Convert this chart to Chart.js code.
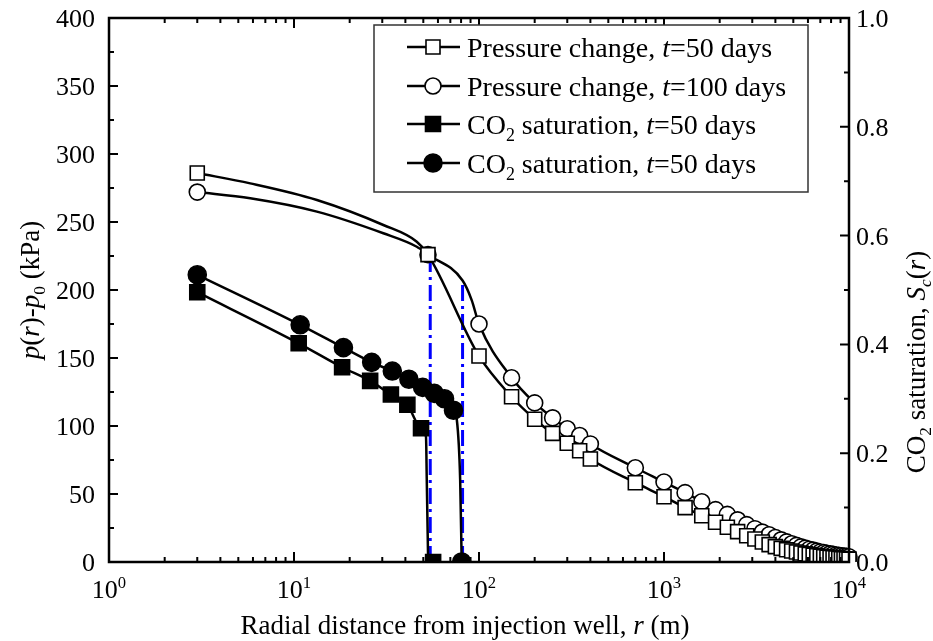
<!DOCTYPE html>
<html lang="en">
<head>
<meta charset="UTF-8">
<title>Pressure change and CO2 saturation vs radial distance</title>
<script src="https://cdn.jsdelivr.net/npm/chart.js@4"></script>
<style>
  body { margin: 0; background: #fff; }
  #wrap { width: 933px; height: 641px; }
</style>
</head>
<body>
<div id="wrap"><canvas id="chart" width="933" height="641"></canvas></div>
<script>
// radial distances (m) of the pressure markers
const rPressure = [3, 53, 100, 150, 200, 250, 300, 350, 400, 700,
  1000, 1300, 1600, 1900, 2200, 2500, 2800, 3100, 3400, 3700, 4000,
  4300, 4600, 4900, 5200, 5500, 5800, 6100, 6400, 6700, 7000, 7300,
  7600, 7900, 8200, 8500, 8800, 9100, 9400, 9700, 10000];
// pressure change p(r)-p0 (kPa)
const pressure50 = [286, 226, 151.5, 121.5, 105, 94.6, 87.3, 81.8, 75.7, 58.3,
  48, 40, 34, 29.2, 25.5, 22.3, 19.3, 16.9, 14.7, 12.8, 11.3,
  10, 9, 8.1, 7.3, 6.6, 6, 5.5, 5, 4.6, 4.2, 3.9,
  3.6, 3.3, 3.1, 2.9, 2.7, 2.5, 2.4, 2.2, 2.1];
const pressure100 = [272, 226, 175, 135.5, 117, 106, 98, 93, 86.8, 69.3,
  58.8, 51, 44.3, 38.5, 35, 31, 27.5, 24.5, 22, 20, 18,
  16.3, 14.8, 13.4, 12.2, 11.1, 10.2, 9.4, 8.7, 8, 7.4, 6.9,
  6.4, 6, 5.6, 5.2, 4.9, 4.6, 4.3, 4.1, 3.9];
// points along the pressure curves that carry no marker
const rCurve50 = [5.8, 13.3, 30.4, 46.1];
const pCurve50 = [278.4, 266.2, 247.8, 235.5];
const rCurve100 = [5.8, 13.3, 30.4, 46.1, 81.5, 91.3];
const pCurve100 = [267.4, 257.6, 241.7, 231.8, 207, 192.6];

// CO2 saturation markers
const rSat50 = [3, 10.6, 18.2, 25.8, 33.4, 41, 48.6, 56.5];
const sat50 = [0.496, 0.402, 0.358, 0.333, 0.308, 0.289, 0.246, 0];
const rSat100 = [3, 10.8, 18.5, 26.3, 34, 41.8, 49.6, 57.3, 65.1, 72.8, 80.6];
const sat100 = [0.528, 0.436, 0.394, 0.367, 0.351, 0.336, 0.321, 0.310, 0.300, 0.279, 0];
// steep drop of the saturation curves at the front
const rSatCurve50 = [51.7, 52.2, 53.1];
const satCurve50 = [0.23, 0.151, 0];
const rSatCurve100 = [75.9, 79.1, 80.6];
const satCurve100 = [0.261, 0.151, 0];

// saturation front positions (m) and pressure there (kPa)
const rFront = [54.5, 81.5];
const pFront = [226, 207];

// axis ticks
const xTicks = [1, 10, 100, 1000, 10000];
const yTicks = [0, 50, 100, 150, 200, 250, 300, 350, 400];
const y2Ticks = [0, 0.2, 0.4, 0.6, 0.8, 1.0];

const FONT = '"Liberation Serif", "Times New Roman", serif';
function font(size, italic) { return (italic ? 'italic ' : '') + size + 'px ' + FONT; }

function points(rs, vs) { return rs.map((r, i) => ({ x: r, y: vs[i] })); }
function curve(rA, vA, rB, vB) {
  const keep = rA.map((r, i) => i).filter(i => vA[i] > 0);
  return points(keep.map(i => rA[i]).concat(rB), keep.map(i => vA[i]).concat(vB))
    .sort((a, b) => a.x - b.x);
}

// text made of runs (italic, subscript, superscript)
function runsWidth(ctx, runs, size) {
  let w = 0;
  for (const s of runs) {
    ctx.font = font(s.sub || s.sup ? size * 0.64 : size, s.it);
    w += ctx.measureText(s.t).width;
  }
  return w;
}
function drawRuns(ctx, runs, x, y, size) {
  ctx.textAlign = 'left';
  ctx.textBaseline = 'alphabetic';
  for (const s of runs) {
    ctx.font = font(s.sub || s.sup ? size * 0.64 : size, s.it);
    const dy = s.sub ? size * 0.24 : s.sup ? -size * 0.4 : 0;
    ctx.fillText(s.t, x, y + dy);
    x += ctx.measureText(s.t).width;
  }
}

const markerStyles = [
  { shape: 'rect', size: 14, fill: '#fff' },
  { shape: 'circle', size: 16, fill: '#fff' },
  { shape: 'rect', size: 15, fill: '#000' },
  { shape: 'circle', size: 18, fill: '#000' }
];
function drawMarker(ctx, st, x, y) {
  ctx.lineWidth = 1.6;
  ctx.strokeStyle = '#000';
  ctx.fillStyle = st.fill;
  ctx.beginPath();
  if (st.shape === 'rect') ctx.rect(x - st.size / 2, y - st.size / 2, st.size, st.size);
  else ctx.arc(x, y, st.size / 2, 0, Math.PI * 2);
  ctx.fill();
  ctx.stroke();
}

const legendRows = [
  [{ t: 'Pressure change, ' }, { t: 't', it: true }, { t: '=50 days' }],
  [{ t: 'Pressure change, ' }, { t: 't', it: true }, { t: '=100 days' }],
  [{ t: 'CO' }, { t: '2', sub: true }, { t: ' saturation, ' }, { t: 't', it: true }, { t: '=50 days' }],
  [{ t: 'CO' }, { t: '2', sub: true }, { t: ' saturation, ' }, { t: 't', it: true }, { t: '=50 days' }]
];

const framePlugin = {
  id: 'frame',
  afterDraw(chart) {
    const ctx = chart.ctx;
    const { left, right, top, bottom } = chart.chartArea;
    const sx = chart.scales.x, sy = chart.scales.y, sy2 = chart.scales.y2;
    ctx.save();
    ctx.strokeStyle = '#000';
    ctx.fillStyle = '#000';

    // inward ticks on all four sides
    ctx.lineWidth = 2;
    ctx.beginPath();
    for (let v = 0; v <= 400; v += 25) {
      const py = sy.getPixelForValue(v);
      const len = v % 50 === 0 ? 9 : 5;
      ctx.moveTo(left, py); ctx.lineTo(left + len, py);
    }
    for (let k = 0; k <= 10; k++) {
      const py = sy2.getPixelForValue(k / 10);
      const len = k % 2 === 0 ? 9 : 5;
      ctx.moveTo(right, py); ctx.lineTo(right - len, py);
    }
    for (let d = 0; d < 4; d++) {
      for (let m = 1; m <= 9; m++) {
        const px = sx.getPixelForValue(m * Math.pow(10, d));
        const len = m === 1 ? 10 : 5;
        ctx.moveTo(px, bottom); ctx.lineTo(px, bottom - len);
        ctx.moveTo(px, top); ctx.lineTo(px, top + len);
      }
    }
    ctx.stroke();

    ctx.lineWidth = 2.5;
    ctx.strokeRect(left, top, right - left, bottom - top);

    // tick labels
    ctx.font = font(26);
    ctx.textBaseline = 'alphabetic';
    ctx.textAlign = 'right';
    yTicks.forEach(v => ctx.fillText(String(v), left - 14, sy.getPixelForValue(v) + 9));
    ctx.textAlign = 'left';
    y2Ticks.forEach(v => ctx.fillText(v.toFixed(1), right + 7, sy2.getPixelForValue(v) + 9));
    xTicks.forEach(v => {
      const runs = [{ t: '10' }, { t: String(Math.round(Math.log10(v))), sup: true }];
      const w = runsWidth(ctx, runs, 26);
      drawRuns(ctx, runs, sx.getPixelForValue(v) - w / 2, 598, 26);
    });

    // axis titles
    const xTitle = [{ t: 'Radial distance from injection well, ' }, { t: 'r', it: true }, { t: ' (m)' }];
    drawRuns(ctx, xTitle, 465 - runsWidth(ctx, xTitle, 27) / 2, 634, 27);

    const yTitle = [{ t: 'p', it: true }, { t: '(' }, { t: 'r', it: true }, { t: ')-' },
      { t: 'p', it: true }, { t: '0', sub: true }, { t: ' (kPa)' }];
    ctx.save();
    ctx.translate(39, 290);
    ctx.rotate(-Math.PI / 2);
    drawRuns(ctx, yTitle, -runsWidth(ctx, yTitle, 27) / 2, 0, 27);
    ctx.restore();

    const y2Title = [{ t: 'CO' }, { t: '2', sub: true }, { t: ' saturation, ' },
      { t: 'S', it: true }, { t: 'c', it: true, sub: true }, { t: '(' }, { t: 'r', it: true }, { t: ')' }];
    ctx.save();
    ctx.translate(925, 362);
    ctx.rotate(-Math.PI / 2);
    drawRuns(ctx, y2Title, -runsWidth(ctx, y2Title, 27) / 2, 0, 27);
    ctx.restore();

    // legend box
    ctx.fillStyle = '#fff';
    ctx.fillRect(374, 25, 434, 167);
    ctx.strokeStyle = '#333';
    ctx.lineWidth = 1.5;
    ctx.strokeRect(374, 25, 434, 167);
    const rowY = [47, 86, 124, 163];
    legendRows.forEach((runs, i) => {
      ctx.strokeStyle = '#000';
      ctx.lineWidth = 2.5;
      ctx.beginPath();
      ctx.moveTo(407, rowY[i]); ctx.lineTo(460, rowY[i]);
      ctx.stroke();
      drawMarker(ctx, markerStyles[i], 433, rowY[i]);
      ctx.fillStyle = '#000';
      drawRuns(ctx, runs, 467, rowY[i] + 10, 28);
    });
    ctx.restore();
  }
};

const lineBase = {
  borderColor: '#000',
  borderWidth: 2.5,
  pointRadius: 0,
  fill: false,
  cubicInterpolationMode: 'monotone',
  order: 2
};
const frontBase = {
  borderColor: '#0000ff',
  borderWidth: 3,
  borderDash: [16, 5, 3, 5],
  pointRadius: 0,
  fill: false,
  order: 3
};
function markerSet(label, data, axis, style, radius) {
  return {
    label: label,
    data: data,
    yAxisID: axis,
    showLine: false,
    pointStyle: style.shape,
    pointRadius: radius,
    pointBackgroundColor: style.fill,
    pointBorderColor: '#000',
    pointBorderWidth: 1.6,
    // markers sitting on the bottom axis are cut off there
    clip: { left: 10, top: 10, right: 10, bottom: 0 },
    order: 1
  };
}

new Chart(document.getElementById('chart'), {
  type: 'line',
  data: {
    datasets: [
      Object.assign({ label: 'Front, t=50 days', yAxisID: 'y',
        data: points([rFront[0], rFront[0]], [0, pFront[0]]) }, frontBase),
      Object.assign({ label: 'Front, t=100 days', yAxisID: 'y',
        data: points([rFront[1], rFront[1]], [0, pFront[1]]) }, frontBase),
      Object.assign({ label: 'Pressure change, t=50 days', yAxisID: 'y',
        data: curve(rPressure, pressure50, rCurve50, pCurve50) }, lineBase),
      Object.assign({ label: 'Pressure change, t=100 days', yAxisID: 'y',
        data: curve(rPressure, pressure100, rCurve100, pCurve100) }, lineBase),
      Object.assign({ label: 'CO2 saturation, t=50 days', yAxisID: 'y2',
        data: curve(rSat50, sat50, rSatCurve50, satCurve50) }, lineBase),
      Object.assign({ label: 'CO2 saturation, t=100 days', yAxisID: 'y2',
        data: curve(rSat100, sat100, rSatCurve100, satCurve100) }, lineBase),
      markerSet('Pressure change, t=50 days', points(rPressure, pressure50), 'y', markerStyles[0], 9.9),
      markerSet('Pressure change, t=100 days', points(rPressure, pressure100), 'y', markerStyles[1], 8),
      markerSet('CO2 saturation, t=50 days', points(rSat50, sat50), 'y2', markerStyles[2], 10.6),
      markerSet('CO2 saturation, t=100 days', points(rSat100, sat100), 'y2', markerStyles[3], 9)
    ]
  },
  options: {
    responsive: false,
    animation: false,
    devicePixelRatio: 1,
    events: [],
    layout: { padding: { left: 109, right: 84, top: 18, bottom: 79 } },
    plugins: { legend: { display: false }, tooltip: { enabled: false } },
    scales: {
      x: { type: 'logarithmic', min: 1, max: 10000, display: false },
      y: { type: 'linear', min: 0, max: 400, display: false },
      y2: { type: 'linear', position: 'right', min: 0, max: 1, display: false }
    }
  },
  plugins: [framePlugin]
});
</script>
</body>
</html>
